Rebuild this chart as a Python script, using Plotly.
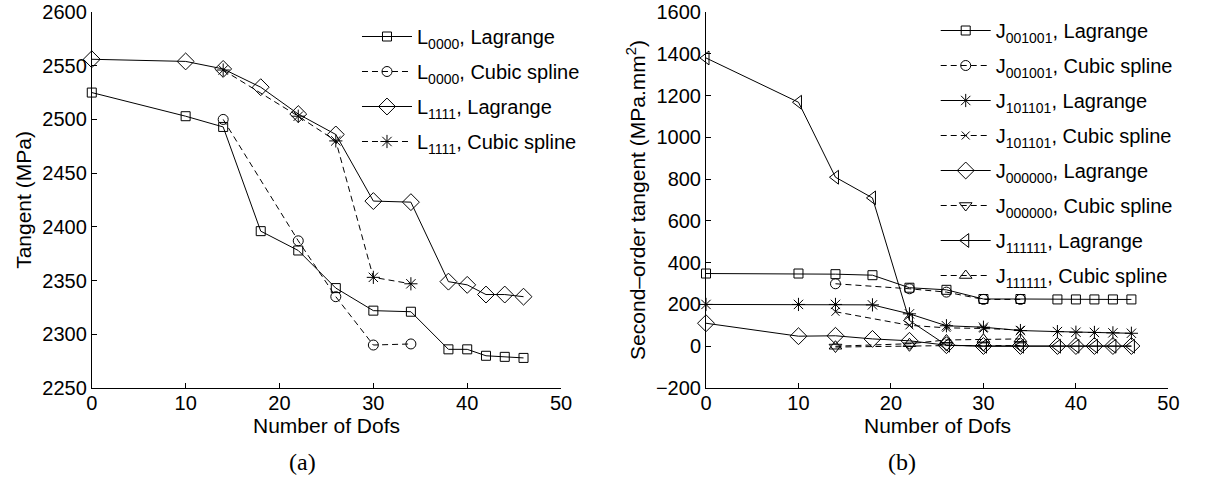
import plotly.graph_objects as go

# ---------------- data ----------------
dofs_lag = [0, 10, 14, 18, 22, 26, 30, 34, 38, 40, 42, 44, 46]
dofs_cub = [14, 22, 26, 30, 34]

# (a) tangent (MPa)
L0000_lag = [2525, 2503, 2493, 2396, 2378, 2343, 2322, 2321, 2286, 2286, 2280, 2279, 2278]
L0000_cub = [2500, 2387, 2335, 2290, 2291]
L1111_lag = [2556, 2554, 2547, 2530, 2505, 2486, 2424, 2423, 2349, 2346, 2337, 2337, 2335]
L1111_cub = [2546, 2503, 2480, 2353, 2347]

# (b) second-order tangent (MPa.mm^2)
J001001_lag = [348, 348, 345, 340, 280, 270, 226, 226, 224, 224, 224, 224, 224]
J001001_cub = [299, 275, 259, 224, 224]
J101101_lag = [200, 200, 200, 198, 155, 98, 91, 75, 70, 67, 66, 64, 62]
J101101_cub = [165, 100, 88, 85, 78]
J000000_lag = [110, 48, 50, 35, 26, 5, 1, 1, 1, 1, 1, 1, 1]
J000000_cub = [-4, 2, 3, 3, 3]
J111111_lag = [1380, 1168, 809, 710, 123, 5, 0, 0, 0, 0, 0, 0, 0]
J111111_cub = [0, 12, 30, 33, 35]

x_ticks = [0, 10, 20, 30, 40, 50]
ya_ticks = [2250, 2300, 2350, 2400, 2450, 2500, 2550, 2600]
yb_ticks = [-200, 0, 200, 400, 600, 800, 1000, 1200, 1400, 1600]

# ---------------- styling ----------------
FONT = "Liberation Sans, Arial, sans-serif"
SERIF = "Liberation Serif, Times New Roman, serif"
W, H = 1207, 479
T, B = 12, 91
PH = H - T - B  # plot height in px


def py(px):
    """pixel row -> paper y"""
    return (H - B - px) / PH


fig = go.Figure()
count = [0]


def add(x, y, name, symbol, size, dash, xa, ya, legend):
    count[0] += 1
    fig.add_trace(go.Scatter(
        x=x, y=y, name=name, mode="lines+markers",
        line=dict(color="black", width=1, dash=dash),
        marker=dict(symbol=symbol, size=size, color="black",
                    line=dict(color="black", width=1)),
        xaxis=xa, yaxis=ya, legend=legend, legendgroup=f"g{count[0]}",
        cliponaxis=False,
    ))


D = "6px,4px"
add(dofs_lag, L0000_lag, "L<sub>0000</sub>, Lagrange", "square-open", 9, "solid", "x", "y", "legend")
add(dofs_cub, L0000_cub, "L<sub>0000</sub>, Cubic spline", "circle-open", 10, D, "x", "y", "legend")
add(dofs_lag, L1111_lag, "L<sub>1111</sub>, Lagrange", "diamond-open", 13, "solid", "x", "y", "legend")
add(dofs_cub, L1111_cub, "L<sub>1111</sub>, Cubic spline", "asterisk-open", 11, D, "x", "y", "legend")

add(dofs_lag, J001001_lag, "J<sub>001001</sub>, Lagrange", "square-open", 9, "solid", "x2", "y2", "legend2")
add(dofs_cub, J001001_cub, "J<sub>001001</sub>, Cubic spline", "circle-open", 10, D, "x2", "y2", "legend2")
add(dofs_lag, J101101_lag, "J<sub>101101</sub>, Lagrange", "asterisk-open", 11, "solid", "x2", "y2", "legend2")
add(dofs_cub, J101101_cub, "J<sub>101101</sub>, Cubic spline", "x-thin-open", 8, D, "x2", "y2", "legend2")
add(dofs_lag, J000000_lag, "J<sub>000000</sub>, Lagrange", "diamond-open", 13, "solid", "x2", "y2", "legend2")
add(dofs_cub, J000000_cub, "J<sub>000000</sub>, Cubic spline", "triangle-down-open", 11, D, "x2", "y2", "legend2")
add(dofs_lag, J111111_lag, "J<sub>111111</sub>, Lagrange", "triangle-left-open", 12, "solid", "x2", "y2", "legend2")
add(dofs_cub, J111111_cub, "J<sub>111111</sub>, Cubic spline", "triangle-up-open", 11, D, "x2", "y2", "legend2")

axis_common = dict(
    showline=True, linecolor="black", linewidth=1, mirror=False,
    ticks="inside", ticklen=5, tickwidth=1, tickcolor="black",
    showgrid=False, zeroline=False,
    tickfont=dict(family=FONT, size=20, color="black"),
)

fig.update_layout(
    width=W, height=H, autosize=False,
    margin=dict(l=0, r=0, t=T, b=B),
    paper_bgcolor="white", plot_bgcolor="white",
    font=dict(family=FONT, size=20, color="black"),
    xaxis=dict(domain=[87 / W, 563 / W], range=[0, 50], tickvals=x_ticks,
               anchor="y", ticklabelstandoff=-3, **axis_common),
    yaxis=dict(domain=[0, 1], range=[2250, 2600], tickvals=ya_ticks,
               title=dict(text="Tangent (MPa)", font=dict(size=21), standoff=4),
               anchor="x", **axis_common),
    xaxis2=dict(domain=[710 / W, 1179 / W], range=[0, 50], tickvals=x_ticks,
                anchor="y2", ticklabelstandoff=-3, **axis_common),
    yaxis2=dict(domain=[0, 1], range=[-200, 1600], tickvals=yb_ticks,
                title=dict(text="Second\u2013order tangent (MPa.mm<sup>2</sup>)", font=dict(size=21), standoff=4),
                anchor="x2", **axis_common),
    legend=dict(x=356 / W, xanchor="left", y=py(17), yanchor="top",
                bgcolor="rgba(0,0,0,0)", font=dict(family=FONT, size=20),
                itemwidth=50, tracegroupgap=6, maxheight=460),
    legend2=dict(x=943 / W, xanchor="left", y=py(11), yanchor="top",
                 bgcolor="rgba(0,0,0,0)", font=dict(family=FONT, size=20),
                 itemwidth=50, tracegroupgap=6, maxheight=460),
    showlegend=True,
    annotations=[
        dict(text="Number of Dofs", xref="paper", yref="paper", x=325 / W, y=py(426),
             xanchor="center", yanchor="middle", showarrow=False,
             font=dict(family=FONT, size=21, color="black")),
        dict(text="Number of Dofs", xref="paper", yref="paper", x=944.5 / W, y=py(426),
             xanchor="center", yanchor="middle", showarrow=False,
             font=dict(family=FONT, size=21, color="black")),
        dict(text="(a)", xref="paper", yref="paper", x=301 / W, y=py(462),
             xanchor="center", yanchor="middle", showarrow=False,
             font=dict(family=SERIF, size=24, color="black")),
        dict(text="(b)", xref="paper", yref="paper", x=909 / W, y=py(462),
             xanchor="center", yanchor="middle", showarrow=False,
             font=dict(family=SERIF, size=24, color="black")),
    ],
)

fig.write_html("out.html")
